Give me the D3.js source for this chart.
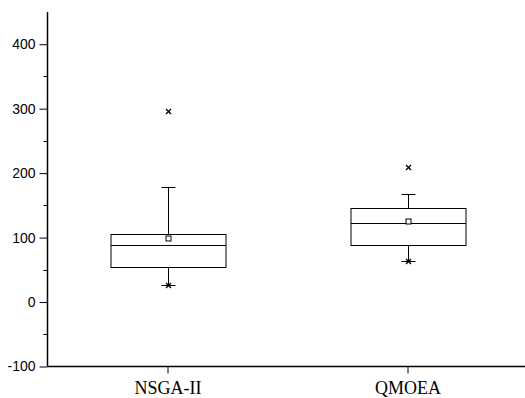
<!DOCTYPE html>
<html>
<head>
<meta charset="utf-8">
<script src="https://cdn.jsdelivr.net/npm/d3@7"></script>
<style>
  html, body { margin: 0; padding: 0; background: #fff; }
  svg { display: block; }
</style>
</head>
<body>
<svg id="chart" width="525" height="398"></svg>
<script>
// data
const categories = ["NSGA-II", "QMOEA"];
const q1 = [54, 88];
const median = [89, 122];
const q3 = [106, 146];
const whiskerLow = [27, 64];
const whiskerHigh = [179, 168];
const means = [100, 125];
const minMarks = [27, 64];
const maxMarks = [297, 210];
const yTicks = [-100, 0, 100, 200, 300, 400];
const yMinorTicks = [-50, 50, 150, 250, 350];

const W = 525, H = 398;
const mLeft = 47.5, mRight = 525, mTop = 12, mBottom = 366.5;
const svg = d3.select("#chart");

const y = d3.scaleLinear().domain([-100, 450]).range([mBottom, mTop]);
const x = d3.scalePoint().domain(categories).range([167.5, 407.5]);

const boxHalf = 57.5, capHalf = 7;

// y axis (plain hyphen for negatives, like the original)
const yAxis = svg.append("g").attr("transform", `translate(${mLeft},0)`)
  .call(d3.axisLeft(y).tickValues(yTicks).tickFormat(d => String(d)).tickSize(8).tickPadding(4).tickSizeOuter(0));
yAxis.select(".domain").remove();
yAxis.selectAll("text").attr("font-family", "Liberation Sans, Arial, sans-serif").attr("font-size", "14px").attr("fill", "#000");
yAxis.selectAll("line").attr("stroke", "#000");
svg.append("g").attr("transform", `translate(${mLeft},0)`)
  .selectAll("line").data(yMinorTicks).enter().append("line")
  .attr("x1", -4).attr("x2", 0)
  .attr("y1", d => Math.round(y(d)) + 0.5).attr("y2", d => Math.round(y(d)) + 0.5)
  .attr("stroke", "#000");
svg.append("line").attr("x1", mLeft).attr("x2", mLeft).attr("y1", mTop).attr("y2", mBottom)
  .attr("stroke", "#000").attr("stroke-width", 1.5);

// x axis
const xAxis = svg.append("g").attr("transform", `translate(0,${mBottom})`)
  .call(d3.axisBottom(x).tickSize(7).tickPadding(8).tickSizeOuter(0));
xAxis.select(".domain").remove();
xAxis.selectAll("text").attr("font-family", "Liberation Serif, Times New Roman, serif").attr("font-size", "18px").attr("fill", "#000");
xAxis.selectAll("line").attr("stroke", "#000");
svg.append("line").attr("x1", mLeft).attr("x2", mRight).attr("y1", mBottom).attr("y2", mBottom)
  .attr("stroke", "#000").attr("stroke-width", 1.5);

// boxes
const g = svg.append("g");
categories.forEach((c, i) => {
  const cx = Math.round(x(c)) + 0.5;
  const px = v => Math.round(y(v)) + 0.5;
  const b = g.append("g").attr("stroke", "#000").attr("fill", "none").attr("stroke-width", 1);
  // whiskers
  b.append("line").attr("x1", cx).attr("x2", cx).attr("y1", px(q3[i])).attr("y2", px(whiskerHigh[i]));
  b.append("line").attr("x1", cx).attr("x2", cx).attr("y1", px(q1[i])).attr("y2", px(whiskerLow[i]));
  b.append("line").attr("x1", cx - capHalf).attr("x2", cx + capHalf).attr("y1", px(whiskerHigh[i])).attr("y2", px(whiskerHigh[i]));
  b.append("line").attr("x1", cx - capHalf).attr("x2", cx + capHalf).attr("y1", px(whiskerLow[i])).attr("y2", px(whiskerLow[i]));
  // box
  b.append("rect").attr("x", cx - boxHalf).attr("width", boxHalf * 2)
    .attr("y", px(q3[i])).attr("height", px(q1[i]) - px(q3[i]));
  b.append("line").attr("x1", cx - boxHalf).attr("x2", cx + boxHalf).attr("y1", px(median[i])).attr("y2", px(median[i]));
  // mean
  b.append("rect").attr("x", cx - 2.5).attr("y", px(means[i]) - 2.5).attr("width", 5).attr("height", 5).attr("fill", "#fff");
  // min / max crosses
  [minMarks[i], maxMarks[i]].forEach(v => {
    const yy = px(v);
    b.append("path").attr("d", `M${cx - 2.5},${yy - 2.5}L${cx + 2.5},${yy + 2.5}M${cx - 2.5},${yy + 2.5}L${cx + 2.5},${yy - 2.5}`)
      .attr("stroke-width", 1.3);
  });
});
</script>
</body>
</html>
